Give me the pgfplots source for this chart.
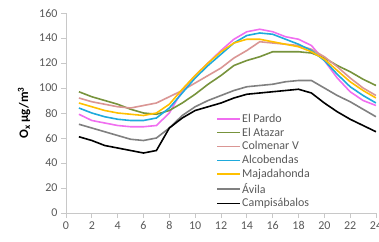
\documentclass[border=0pt]{standalone}
\usepackage{pgfplots}
\pgfplotsset{compat=1.18}
\usepackage{fontspec}
\setmainfont{Carlito}
\definecolor{cPardo}{RGB}{240,110,240}
\definecolor{cAtazar}{RGB}{119,147,60}
\definecolor{cColm}{RGB}{218,150,148}
\definecolor{cAlco}{RGB}{30,170,220}
\definecolor{cMaja}{RGB}{255,192,0}
\definecolor{cAvila}{RGB}{128,128,128}
\definecolor{cCamp}{RGB}{0,0,0}
\definecolor{axgray}{RGB}{200,200,200}
\definecolor{tickgray}{RGB}{89,89,89}
\begin{document}
\begin{tikzpicture}
\begin{axis}[
  name=ax,
  scale only axis, width=310pt, height=200pt,
  xmin=0, xmax=24, ymin=0, ymax=160,
  xtick={0,2,...,24}, ytick={0,20,...,160},
  axis x line*=bottom, axis y line*=left,
  axis line style={axgray, line width=0.8pt, -},
  tick style={axgray, line width=0.8pt},
  tick align=outside, major tick length=5pt,
  tick label style={font=\fontsize{12}{14}\selectfont, text=tickgray},
  /pgf/number format/assume math mode=true,
  ylabel={\bfseries O\textsubscript{x} µg/m\textsuperscript{3}},
  every axis y label/.style={at={(axis description cs:-0.135,0.5)}, rotate=90, anchor=center},
  ylabel style={font=\fontsize{13}{15}\selectfont},
  every axis plot/.append style={line width=1.6pt, no markers},
  legend style={at={(0.485,0.012)}, anchor=south west, draw=none, fill=none,
    font=\fontsize{12}{13}\selectfont, text=tickgray, row sep=0pt, inner sep=0pt,
    /tikz/every odd column/.append style={column sep=-1pt}},
  legend cell align=left,
  legend image code/.code={\draw[#1, line width=1.6pt] (0pt,0pt) -- (23pt,0pt);},
]
\addplot[cPardo] coordinates {(1,79)(2,74)(3,72)(4,70)(5,69)(6,69)(7,70)(8,80)(9,98)(10,110)(11,120)(12,130)(13,139)(14,145)(15,147)(16,145)(17,141)(18,139)(19,134)(20,122)(21,108)(22,97)(23,90)(24,86)};
\addlegendentry{El Pardo}
\addplot[cAtazar] coordinates {(1,97)(2,93)(3,90)(4,87)(5,83)(6,80)(7,79)(8,82)(9,88)(10,95)(11,103)(12,110)(13,118)(14,122)(15,125)(16,129)(17,129)(18,129)(19,128)(20,124)(21,118)(22,113)(23,107)(24,102)};
\addlegendentry{El Atazar}
\addplot[cColm] coordinates {(1,92)(2,89)(3,87)(4,85)(5,84)(6,86)(7,88)(8,93)(9,98)(10,104)(11,110)(12,116)(13,124)(14,130)(15,137)(16,136)(17,135)(18,134)(19,131)(20,125)(21,117)(22,108)(23,100)(24,94)};
\addlegendentry{Colmenar V}
\addplot[cAlco] coordinates {(1,84)(2,80)(3,77)(4,75)(5,74)(6,74)(7,76)(8,84)(9,96)(10,108)(11,118)(12,127)(13,136)(14,142)(15,144)(16,143)(17,139)(18,135)(19,130)(20,122)(21,111)(22,101)(23,94)(24,88)};
\addlegendentry{Alcobendas}
\addplot[cMaja] coordinates {(1,88)(2,85)(3,82)(4,80)(5,79)(6,78)(7,80)(8,87)(9,99)(10,110)(11,120)(12,129)(13,136)(14,139)(15,139)(16,137)(17,135)(18,133)(19,129)(20,123)(21,114)(22,105)(23,98)(24,92)};
\addlegendentry{Majadahonda}
\addplot[cAvila] coordinates {(1,71)(2,68)(3,65)(4,62)(5,59)(6,58)(7,60)(8,68)(9,78)(10,85)(11,90)(12,94)(13,98)(14,101)(15,102)(16,103)(17,105)(18,106)(19,106)(20,100)(21,94)(22,89)(23,83)(24,77)};
\addlegendentry{Ávila}
\addplot[cCamp] coordinates {(1,61)(2,58)(3,54)(4,52)(5,50)(6,48)(7,50)(8,68)(9,76)(10,82)(11,85)(12,88)(13,92)(14,95)(15,96)(16,97)(17,98)(18,99)(19,96)(20,88)(21,81)(22,75)(23,70)(24,65)};
\addlegendentry{Campisábalos}
\end{axis}
\pgfresetboundingbox
\path[use as bounding box] ([xshift=-66pt,yshift=-28pt]ax.south west) rectangle ([xshift=3pt,yshift=13pt]ax.north east);
\end{tikzpicture}
\end{document}
